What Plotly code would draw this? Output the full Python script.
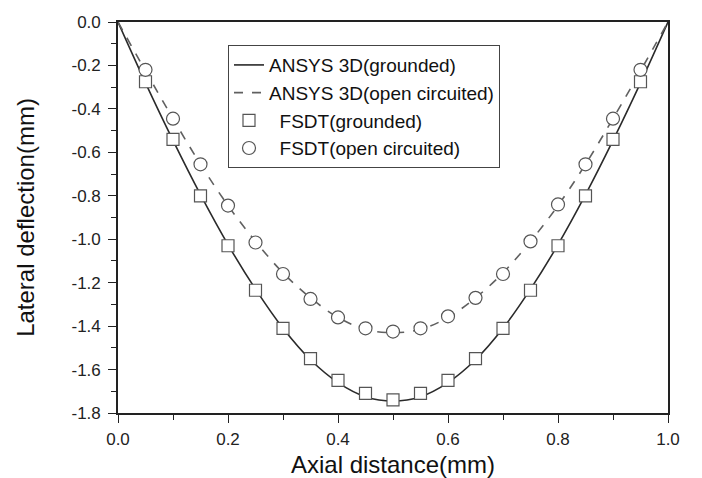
import plotly.graph_objects as go

x_pts = [0.0, 0.05, 0.1, 0.15, 0.2, 0.25, 0.3, 0.35, 0.4, 0.45, 0.5,
         0.55, 0.6, 0.65, 0.7, 0.75, 0.8, 0.85, 0.9, 0.95, 1.0]
ansys_grounded = [0.0, -0.28, -0.545, -0.795, -1.025, -1.23, -1.41, -1.555, -1.66, -1.725, -1.745,
                  -1.725, -1.66, -1.555, -1.41, -1.23, -1.025, -0.795, -0.545, -0.28, 0.0]
ansys_open = [0.0, -0.225, -0.445, -0.655, -0.845, -1.01, -1.155, -1.27, -1.36, -1.415, -1.43,
              -1.415, -1.36, -1.27, -1.155, -1.01, -0.845, -0.655, -0.445, -0.225, 0.0]
x_fsdt = [0.05, 0.1, 0.15, 0.2, 0.25, 0.3, 0.35, 0.4, 0.45, 0.5,
          0.55, 0.6, 0.65, 0.7, 0.75, 0.8, 0.85, 0.9, 0.95]
fsdt_grounded = [-0.275, -0.54, -0.80, -1.03, -1.235, -1.41, -1.55, -1.65, -1.71, -1.74,
                 -1.71, -1.65, -1.55, -1.41, -1.235, -1.03, -0.80, -0.54, -0.275]
fsdt_open = [-0.22, -0.445, -0.655, -0.845, -1.015, -1.16, -1.275, -1.36, -1.41, -1.425,
             -1.41, -1.355, -1.27, -1.16, -1.01, -0.84, -0.655, -0.445, -0.22]

series_names = ["ANSYS 3D(grounded)", "ANSYS 3D(open circuited)",
                "\u00a0\u00a0FSDT(grounded)", "\u00a0\u00a0FSDT(open circuited)"]

x_ticks = [0.0, 0.2, 0.4, 0.6, 0.8, 1.0]
x_ticktext = ["0.0", "0.2", "0.4", "0.6", "0.8", "1.0"]
y_ticks = [0.0, -0.2, -0.4, -0.6, -0.8, -1.0, -1.2, -1.4, -1.6, -1.8]
y_ticktext = ["0.0", "-0.2", "-0.4", "-0.6", "-0.8", "-1.0", "-1.2", "-1.4", "-1.6", "-1.8"]

FONT = "Liberation Sans, Arial, sans-serif"

fig = go.Figure()
fig.add_trace(go.Scatter(x=x_pts, y=ansys_grounded, mode="lines", name=series_names[0],
                         line=dict(color="#2a2a2a", width=1.6, shape="spline")))
fig.add_trace(go.Scatter(x=x_pts, y=ansys_open, mode="lines", name=series_names[1],
                         line=dict(color="#606060", width=1.6, dash="dash", shape="spline")))
fig.add_trace(go.Scatter(x=x_fsdt, y=fsdt_grounded, mode="markers", name=series_names[2],
                         marker=dict(symbol="square", size=12, color="white",
                                     line=dict(color="#555555", width=1.2))))
fig.add_trace(go.Scatter(x=x_fsdt, y=fsdt_open, mode="markers", name=series_names[3],
                         marker=dict(symbol="circle", size=13, color="white",
                                     line=dict(color="#555555", width=1.2))))

axis_common = dict(showline=True, linecolor="#222222", linewidth=1.6, mirror=True,
                   ticks="outside", ticklen=8, tickwidth=1.4, tickcolor="#222222",
                   showgrid=False, zeroline=False,
                   tickfont=dict(family=FONT, size=17, color="#222222"),
                   minor=dict(ticks="outside", ticklen=5, tickwidth=1.2, tickcolor="#222222"))

fig.update_xaxes(range=[0, 1], tickvals=x_ticks, ticktext=x_ticktext,
                 minor_dtick=0.1, ticklabelstandoff=2,
                 title=dict(text="Axial distance(mm)", standoff=10,
                            font=dict(family=FONT, size=24, color="#111111")),
                 **axis_common)
fig.update_yaxes(range=[-1.8, 0], tickvals=y_ticks, ticktext=y_ticktext,
                 minor_dtick=0.1, ticklabelstandoff=4,
                 title=dict(text="Lateral deflection(mm)", standoff=30,
                            font=dict(family=FONT, size=24, color="#111111")),
                 **axis_common)

fig.update_layout(
    width=694, height=470,
    margin=dict(l=110, r=34, t=14, b=65, autoexpand=False),
    paper_bgcolor="white", plot_bgcolor="white",
    showlegend=True,
    legend=dict(x=0.2, y=0.941, xanchor="left", yanchor="top",
                bgcolor="white", bordercolor="#444444", borderwidth=1,
                font=dict(family=FONT, size=19, color="#111111"),
                tracegroupgap=0, itemsizing="trace"),
)

fig.write_html("out.html")
